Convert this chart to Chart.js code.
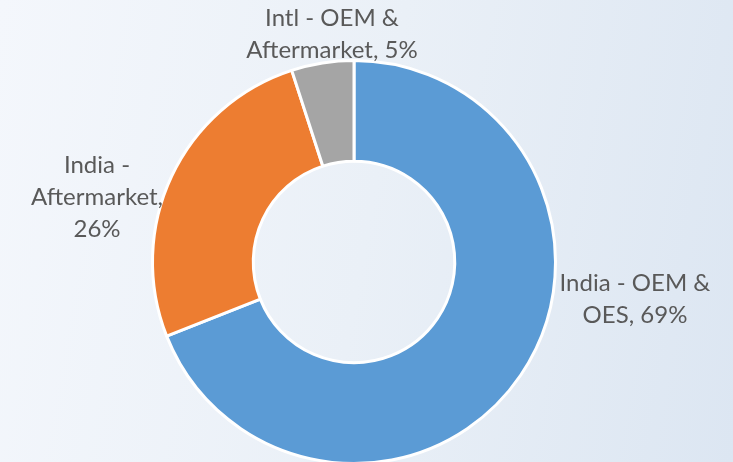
<!DOCTYPE html>
<html>
<head>
<meta charset="utf-8">
<script src="https://cdn.jsdelivr.net/npm/chart.js@4/dist/chart.umd.min.js"></script>
<style>
  html, body { margin: 0; padding: 0; }
  body { width: 733px; height: 462px; overflow: hidden;
         background: linear-gradient(100deg, #f4f7fc 0%, #eaf0f7 50%, #dce6f2 100%); }
  #wrap { position: relative; width: 733px; height: 480px; }
</style>
</head>
<body>
<div id="wrap"><canvas id="c" width="733" height="480"></canvas></div>
<script>
const categories = ["India - OEM & OES", "India - Aftermarket", "Intl - OEM & Aftermarket"];
const shares = [69, 26, 5];
const colors = ["#5B9BD5", "#ED7D31", "#A5A5A5"];
const labelLines = [
  ["India - OEM &", "OES, 69%"],
  ["India -", "Aftermarket,", "26%"],
  ["Intl - OEM &", "Aftermarket, 5%"]
];
// label text block centers (layout only)
const labelPos = [[635, 283], [97, 165], [332, 18]];

const labelPlugin = {
  id: 'outLabels',
  afterDatasetsDraw(chart) {
    const ctx = chart.ctx;
    ctx.save();
    ctx.font = '24px Lato, "Open Sans", sans-serif';
    ctx.fillStyle = '#595959';
    ctx.textAlign = 'center';
    ctx.textBaseline = 'middle';
    labelLines.forEach((lines, i) => {
      const [x, y] = labelPos[i];
      lines.forEach((t, j) => ctx.fillText(t, x, y + j * 32));
    });
    ctx.restore();
  }
};

new Chart(document.getElementById('c'), {
  type: 'doughnut',
  data: {
    labels: categories,
    datasets: [{
      data: shares,
      backgroundColor: colors,
      borderColor: '#ffffff',
      borderWidth: 3,
      hoverOffset: 0
    }]
  },
  options: {
    responsive: false,
    animation: false,
    cutout: '50%',
    layout: { padding: { top: 59, bottom: 15, left: 151, right: 176 } },
    plugins: { legend: { display: false }, tooltip: { enabled: false } }
  },
  plugins: [labelPlugin]
});
</script>
</body>
</html>
